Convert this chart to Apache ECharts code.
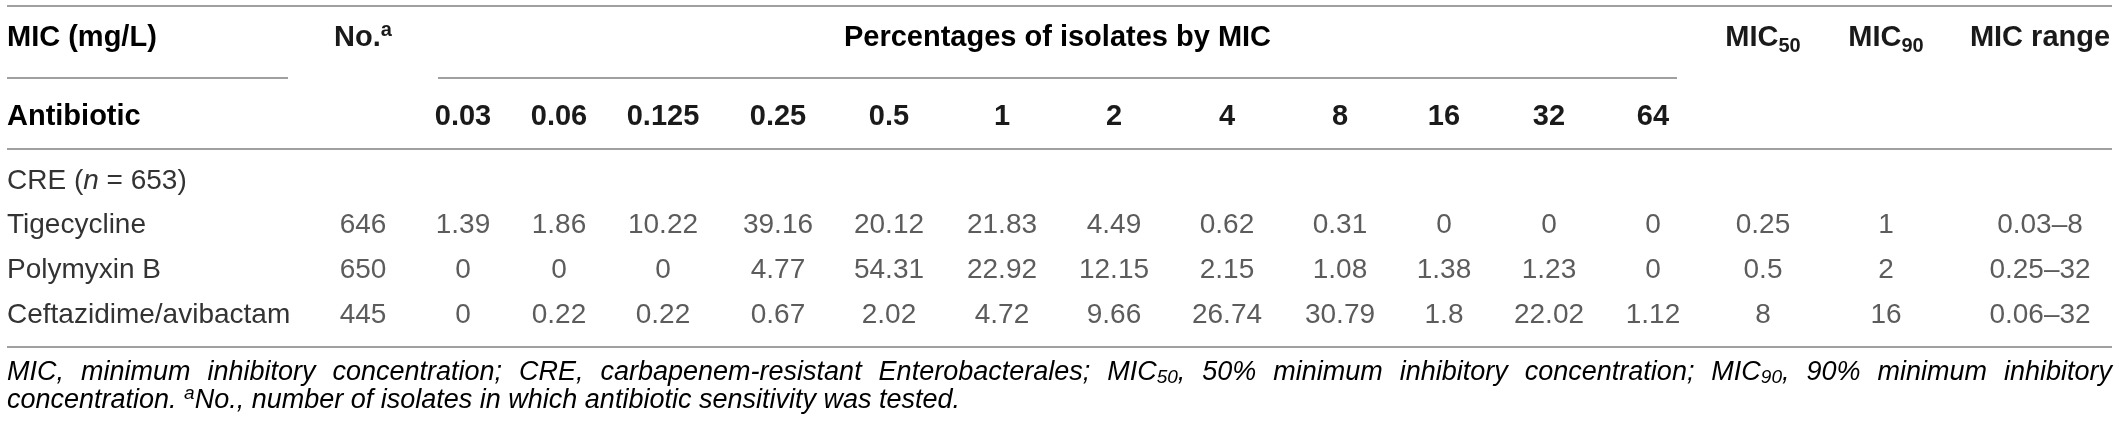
<!DOCTYPE html>
<html>
<head>
<meta charset="utf-8">
<script src="https://cdn.jsdelivr.net/npm/echarts@6/dist/echarts.min.js"></script>
<style>
  html, body { margin: 0; padding: 0; background: #fff; }
  #chart { width: 2119px; height: 430px; }
</style>
</head>
<body>
<div id="chart"></div>
<script>
  // table data
  var rowNames = ["CRE", "Tigecycline", "Polymyxin B", "Ceftazidime/avibactam"];
  var antibiotics = ["Tigecycline", "Polymyxin B", "Ceftazidime/avibactam"];
  var micLevels = ["0.03", "0.06", "0.125", "0.25", "0.5", "1", "2", "4", "8", "16", "32", "64"];
  var isolates = [646, 650, 445];
  var tigecycline = [1.39, 1.86, 10.22, 39.16, 20.12, 21.83, 4.49, 0.62, 0.31, 0, 0, 0];
  var polymyxinB = [0, 0, 0, 4.77, 54.31, 22.92, 12.15, 2.15, 1.08, 1.38, 1.23, 0];
  var ceftazidimeAvibactam = [0, 0.22, 0.22, 0.67, 2.02, 4.72, 9.66, 26.74, 30.79, 1.8, 22.02, 1.12];
  var mic50 = [0.25, 0.5, 8];
  var mic90 = [1, 2, 16];
  var micRange = ["0.03\u20138", "0.25\u201332", "0.06\u201332"];

  // layout (px): column centres, row band
  var colCentre = {
    no: 363,
    mic: [463, 559, 663, 778, 889, 1002, 1114, 1227, 1340, 1444, 1549, 1653],
    mic50: 1763,
    mic90: 1886,
    range: 2040
  };
  var colWidth = 90;
  var tableTop = 158.7;
  var rowH = 44.67;
  var headRow1 = 38, headRow2 = 117;

  var FONT = "'Liberation Sans', Arial, Helvetica, sans-serif";
  var HEAD = "#1a1a1a";
  var BODY = "#333333";
  var RULE = "#a0a0a0";

  var headRich = {
    b: { fontFamily: FONT, fontSize: 29, fontWeight: "bold", color: HEAD, lineHeight: 36 },
    sub: { fontFamily: FONT, fontSize: 20, fontWeight: "bold", color: HEAD, lineHeight: 20, padding: [16, 0, 0, 0] },
    sup: { fontFamily: FONT, fontSize: 20, fontWeight: "bold", color: HEAD, lineHeight: 20, padding: [0, 0, 16, 0] }
  };

  var percentByDrug = [tigecycline, polymyxinB, ceftazidimeAvibactam];
  var columns = [];
  columns.push({ key: "No.", header: "{b|No.}{sup|a}", row: 1, centre: colCentre.no, values: isolates });
  micLevels.forEach(function (m, i) {
    columns.push({
      key: m,
      header: "{b|" + m + "}",
      row: 2,
      centre: colCentre.mic[i],
      values: percentByDrug.map(function (d) { return d[i]; })
    });
  });
  columns.push({ key: "MIC50", header: "{b|MIC}{sub|50}", row: 1, centre: colCentre.mic50, values: mic50 });
  columns.push({ key: "MIC90", header: "{b|MIC}{sub|90}", row: 1, centre: colCentre.mic90, values: mic90 });
  columns.push({ key: "MIC range", header: "{b|MIC range}", row: 1, centre: colCentre.range, values: micRange });

  var grids = [], xAxes = [], yAxes = [], series = [];
  columns.forEach(function (c, ci) {
    var left = c.centre - colWidth / 2;
    grids.push({ left: left, width: colWidth, top: tableTop, height: rowH * rowNames.length });
    xAxes.push({
      type: "category",
      gridIndex: ci,
      position: "top",
      data: [c.key],
      axisLine: { show: false },
      axisTick: { show: false },
      splitLine: { show: false },
      axisLabel: {
        interval: 0,
        margin: tableTop - (c.row === 1 ? headRow1 : headRow2),
        verticalAlign: "middle",
        formatter: function () { return c.header; },
        rich: headRich
      }
    });
    yAxes.push({
      type: "category",
      gridIndex: ci,
      inverse: true,
      data: rowNames,
      axisLine: { show: false },
      axisTick: { show: false },
      splitLine: { show: false },
      axisLabel: {
        show: ci === 0,
        interval: 0,
        align: "left",
        margin: left - 7,
        formatter: function (v) {
          if (v === "CRE") return "{r|CRE (}{i|n}{r| = 653)}";
          return "{r|" + v + "}";
        },
        rich: {
          r: { fontFamily: FONT, fontSize: 28, color: BODY },
          i: { fontFamily: FONT, fontSize: 28, color: BODY, fontStyle: "italic" }
        }
      }
    });
    series.push({
      type: "scatter",
      xAxisIndex: ci,
      yAxisIndex: ci,
      symbol: "circle",
      symbolSize: 1,
      silent: true,
      itemStyle: { color: "rgba(0,0,0,0)" },
      data: antibiotics.map(function (a, k) { return [c.key, a, c.values[k]]; }),
      label: {
        show: true,
        position: "inside",
        fontFamily: FONT,
        fontSize: 28,
        color: BODY,
        formatter: function (p) { return String(p.value[2]); }
      }
    });
  });

  function rule(x1, x2, y) {
    return {
      type: "line",
      silent: true,
      shape: { x1: x1, y1: y, x2: x2, y2: y },
      style: { stroke: RULE, lineWidth: 2 }
    };
  }

  function text(str, x, y, align, rich, extra) {
    var st = {
      text: str, x: x, y: y,
      align: align, textAlign: align,
      verticalAlign: "middle", textVerticalAlign: "middle",
      rich: rich
    };
    if (extra) Object.keys(extra).forEach(function (k) { st[k] = extra[k]; });
    return { type: "text", silent: true, style: st };
  }

  // footnotes: italic, first line justified to the table width
  var noteSize = 27, noteSub = 19;
  var noteRich = {
    i: { fontFamily: FONT, fontSize: noteSize, fontStyle: "italic", color: BODY, lineHeight: 30 },
    sub: { fontFamily: FONT, fontSize: noteSub, fontStyle: "italic", color: BODY, lineHeight: 19, padding: [12, 0, 0, 0] },
    sup: { fontFamily: FONT, fontSize: noteSub, fontStyle: "italic", color: BODY, lineHeight: 19, padding: [0, 0, 12, 0] }
  };
  var note1 = "MIC, minimum inhibitory concentration; CRE, carbapenem-resistant Enterobacterales; MIC_50, 50% minimum inhibitory concentration; MIC_90, 90% minimum inhibitory";
  var note2 = "{i|concentration. }{sup|a}{i|No., number of isolates in which antibiotic sensitivity was tested.}";

  var ctx = document.createElement("canvas").getContext("2d");
  function measure(str, size) {
    ctx.font = "italic " + size + "px " + FONT;
    return ctx.measureText(str).width;
  }
  var words = note1.split(" ").map(function (w) {
    var m = w.match(/^(.*)_(\d+)(.*)$/);
    if (m) {
      return {
        rich: "{i|" + m[1] + "}{sub|" + m[2] + "}{i|" + m[3] + "}",
        w: measure(m[1], noteSize) + measure(m[2], noteSub) + measure(m[3], noteSize)
      };
    }
    return { rich: "{i|" + w + "}", w: measure(w, noteSize) };
  });
  var lineLeft = 7, lineRight = 2112;
  var total = words.reduce(function (s, w) { return s + w.w; }, 0);
  var gap = (lineRight - lineLeft - total) / (words.length - 1);
  var graphics = [
    rule(7, 2112, 6),
    rule(7, 288, 78),
    rule(438, 1677, 78),
    rule(7, 2112, 149),
    rule(7, 2112, 347),
    text("{b|MIC (mg/L)}", 7, headRow1, "left", headRich),
    text("{b|Antibiotic}", 7, headRow2, "left", headRich),
    text("{b|Percentages of isolates by MIC}", (438 + 1677) / 2, headRow1, "center", headRich),
    text(note2, 7, 400, "left", noteRich)
  ];
  var cx = lineLeft;
  words.forEach(function (w) {
    graphics.push(text(w.rich, cx, 372, "left", noteRich));
    cx += w.w + gap;
  });

  var chart = echarts.init(document.getElementById("chart"), null, { renderer: "canvas" });
  chart.setOption({
    animation: false,
    backgroundColor: "#ffffff",
    grid: grids,
    xAxis: xAxes,
    yAxis: yAxes,
    series: series,
    graphic: { elements: graphics }
  });
</script>
</body>
</html>
